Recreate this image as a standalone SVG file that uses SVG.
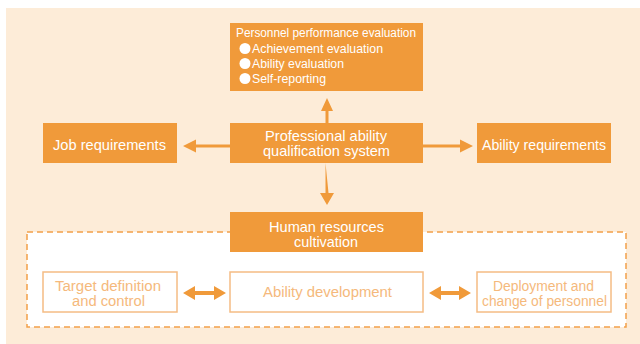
<svg xmlns="http://www.w3.org/2000/svg" width="640" height="344" viewBox="0 0 640 344">
<style>
.bg{fill:#FDECD8}
.solid{fill:#F09A3A}
.outl{fill:#FFFFFF;stroke:#F5BC84;stroke-width:1.5}
.dash{fill:#FFFFFF;stroke:#F2A04A;stroke-width:1.5;stroke-dasharray:6 4}
.t{font-family:"Liberation Sans",Arial,sans-serif;fill:#FFFFFF;font-size:14.5px}
.ts{font-family:"Liberation Sans",Arial,sans-serif;fill:#FFFFFF;font-size:12.5px}
.tl{font-family:"Liberation Sans",Arial,sans-serif;fill:#F5B97C;font-size:14.5px}
.tl2{font-family:"Liberation Sans",Arial,sans-serif;fill:#F5B97C;font-size:14px}
.arr{fill:#F09A3A}
</style>
<rect class="bg" x="6" y="8" width="634" height="336"/>
<rect class="dash" x="27" y="232" width="599" height="95"/>
<g id="connectors">
<polygon class="arr" points="325.5,123 325.5,111 321,111 327,98 333,111 328.5,111 328.5,123"/>
<polygon class="arr" points="230,144.5 196,144.5 196,139.5 183,146 196,152.5 196,147.5 230,147.5"/>
<polygon class="arr" points="423,144.5 460,144.5 460,139.5 473,146 460,152.5 460,147.5 423,147.5"/>
<polygon class="arr" points="325.5,163 325.5,193 320,193 327,205 334,193 328.5,193"/>
<polygon class="arr" points="183,293 195,286 195,291 214,291 214,286 226,293 214,300 214,295 195,295 195,300"/>
<polygon class="arr" points="429,293 441,286 441,291 459,291 459,286 471,293 459,300 459,295 441,295 441,300"/>
</g>
<g id="node-evaluation">
<rect class="solid" x="230" y="23" width="193" height="68"/>
<text class="ts" x="236" y="37" textLength="180" lengthAdjust="spacingAndGlyphs">Personnel performance evaluation</text>
<circle cx="245" cy="48.5" r="5.5" fill="#FFFFFF"/>
<text class="ts" x="252" y="52.5" textLength="131" lengthAdjust="spacingAndGlyphs">Achievement evaluation</text>
<circle cx="245" cy="63.5" r="5.5" fill="#FFFFFF"/>
<text class="ts" x="252" y="67.5" textLength="92" lengthAdjust="spacingAndGlyphs">Ability evaluation</text>
<circle cx="245" cy="78.5" r="5.5" fill="#FFFFFF"/>
<text class="ts" x="252" y="82.5" textLength="74" lengthAdjust="spacingAndGlyphs">Self-reporting</text>
</g>
<g id="node-job">
<rect class="solid" x="43" y="123" width="134" height="40"/>
<text class="t" x="53" y="150" textLength="113" lengthAdjust="spacingAndGlyphs">Job requirements</text>
</g>
<g id="node-system">
<rect class="solid" x="230" y="123" width="193" height="40"/>
<text class="t" x="265" y="141" textLength="122" lengthAdjust="spacingAndGlyphs">Professional ability</text>
<text class="t" x="263" y="156" textLength="127" lengthAdjust="spacingAndGlyphs">qualification system</text>
</g>
<g id="node-ability-req">
<rect class="solid" x="477" y="123" width="134" height="40"/>
<text class="t" x="482" y="150" textLength="124" lengthAdjust="spacingAndGlyphs">Ability requirements</text>
</g>
<g id="node-hr">
<rect class="solid" x="230" y="212" width="193" height="40"/>
<text class="t" x="269" y="232" textLength="115" lengthAdjust="spacingAndGlyphs">Human resources</text>
<text class="t" x="294" y="247" textLength="64" lengthAdjust="spacingAndGlyphs">cultivation</text>
</g>
<g id="node-target">
<rect class="outl" x="43" y="272" width="134" height="40"/>
<text class="tl2" x="55" y="290.5" textLength="106" lengthAdjust="spacingAndGlyphs">Target definition</text>
<text class="tl2" x="72" y="305.5" textLength="73" lengthAdjust="spacingAndGlyphs">and control</text>
</g>
<g id="node-development">
<rect class="outl" x="230" y="272" width="193" height="40"/>
<text class="tl" x="263" y="297" textLength="129" lengthAdjust="spacingAndGlyphs">Ability development</text>
</g>
<g id="node-deployment">
<rect class="outl" x="477" y="272" width="134" height="40"/>
<text class="tl2" x="493" y="290.5" textLength="101" lengthAdjust="spacingAndGlyphs">Deployment and</text>
<text class="tl2" x="482" y="305.5" textLength="125" lengthAdjust="spacingAndGlyphs">change of personnel</text>
</g>
</svg>
